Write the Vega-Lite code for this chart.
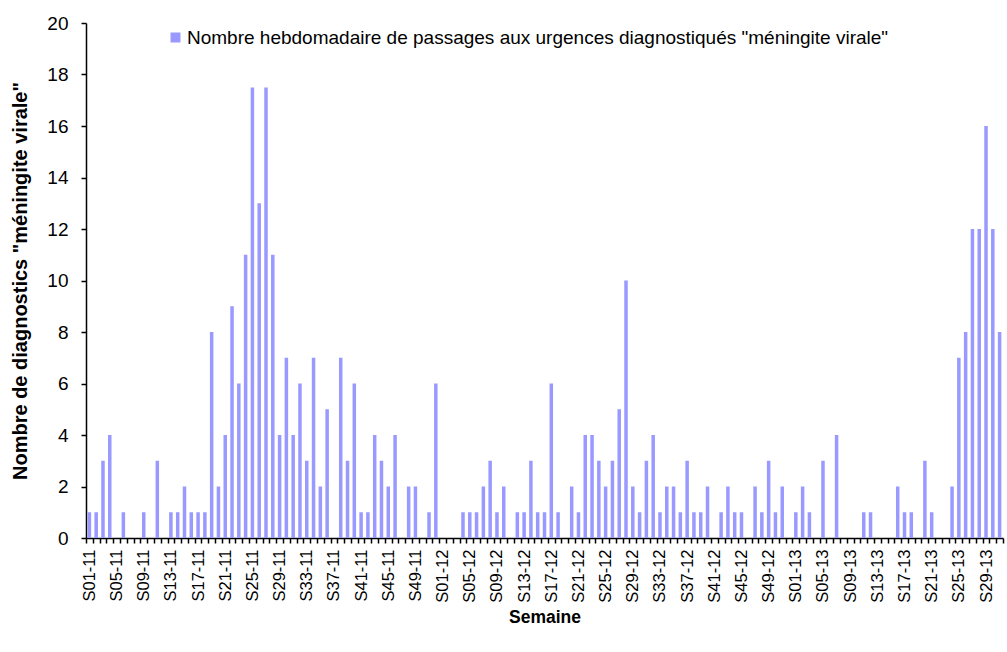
{
  "$schema": "https://vega.github.io/schema/vega-lite/v6.json",
  "autosize": {"type": "none"},
  "width": 917,
  "height": 515,
  "padding": {"left": 86, "top": 23, "right": 4, "bottom": 114},
  "background": "white",
  "config": {
    "font": "Liberation Sans",
    "view": {"stroke": null}
  },
  "data": {
    "values": [
      {"semaine": "S01-11", "n": 1}, {"semaine": "S02-11", "n": 1}, {"semaine": "S03-11", "n": 3}, {"semaine": "S04-11", "n": 4},
      {"semaine": "S05-11", "n": 0}, {"semaine": "S06-11", "n": 1}, {"semaine": "S07-11", "n": 0}, {"semaine": "S08-11", "n": 0},
      {"semaine": "S09-11", "n": 1}, {"semaine": "S10-11", "n": 0}, {"semaine": "S11-11", "n": 3}, {"semaine": "S12-11", "n": 0},
      {"semaine": "S13-11", "n": 1}, {"semaine": "S14-11", "n": 1}, {"semaine": "S15-11", "n": 2}, {"semaine": "S16-11", "n": 1},
      {"semaine": "S17-11", "n": 1}, {"semaine": "S18-11", "n": 1}, {"semaine": "S19-11", "n": 8}, {"semaine": "S20-11", "n": 2},
      {"semaine": "S21-11", "n": 4}, {"semaine": "S22-11", "n": 9}, {"semaine": "S23-11", "n": 6}, {"semaine": "S24-11", "n": 11},
      {"semaine": "S25-11", "n": 17.5}, {"semaine": "S26-11", "n": 13}, {"semaine": "S27-11", "n": 17.5}, {"semaine": "S28-11", "n": 11},
      {"semaine": "S29-11", "n": 4}, {"semaine": "S30-11", "n": 7}, {"semaine": "S31-11", "n": 4}, {"semaine": "S32-11", "n": 6},
      {"semaine": "S33-11", "n": 3}, {"semaine": "S34-11", "n": 7}, {"semaine": "S35-11", "n": 2}, {"semaine": "S36-11", "n": 5},
      {"semaine": "S37-11", "n": 0}, {"semaine": "S38-11", "n": 7}, {"semaine": "S39-11", "n": 3}, {"semaine": "S40-11", "n": 6},
      {"semaine": "S41-11", "n": 1}, {"semaine": "S42-11", "n": 1}, {"semaine": "S43-11", "n": 4}, {"semaine": "S44-11", "n": 3},
      {"semaine": "S45-11", "n": 2}, {"semaine": "S46-11", "n": 4}, {"semaine": "S47-11", "n": 0}, {"semaine": "S48-11", "n": 2},
      {"semaine": "S49-11", "n": 2}, {"semaine": "S50-11", "n": 0}, {"semaine": "S51-11", "n": 1}, {"semaine": "S52-11", "n": 6},
      {"semaine": "S01-12", "n": 0}, {"semaine": "S02-12", "n": 0}, {"semaine": "S03-12", "n": 0}, {"semaine": "S04-12", "n": 1},
      {"semaine": "S05-12", "n": 1}, {"semaine": "S06-12", "n": 1}, {"semaine": "S07-12", "n": 2}, {"semaine": "S08-12", "n": 3},
      {"semaine": "S09-12", "n": 1}, {"semaine": "S10-12", "n": 2}, {"semaine": "S11-12", "n": 0}, {"semaine": "S12-12", "n": 1},
      {"semaine": "S13-12", "n": 1}, {"semaine": "S14-12", "n": 3}, {"semaine": "S15-12", "n": 1}, {"semaine": "S16-12", "n": 1},
      {"semaine": "S17-12", "n": 6}, {"semaine": "S18-12", "n": 1}, {"semaine": "S19-12", "n": 0}, {"semaine": "S20-12", "n": 2},
      {"semaine": "S21-12", "n": 1}, {"semaine": "S22-12", "n": 4}, {"semaine": "S23-12", "n": 4}, {"semaine": "S24-12", "n": 3},
      {"semaine": "S25-12", "n": 2}, {"semaine": "S26-12", "n": 3}, {"semaine": "S27-12", "n": 5}, {"semaine": "S28-12", "n": 10},
      {"semaine": "S29-12", "n": 2}, {"semaine": "S30-12", "n": 1}, {"semaine": "S31-12", "n": 3}, {"semaine": "S32-12", "n": 4},
      {"semaine": "S33-12", "n": 1}, {"semaine": "S34-12", "n": 2}, {"semaine": "S35-12", "n": 2}, {"semaine": "S36-12", "n": 1},
      {"semaine": "S37-12", "n": 3}, {"semaine": "S38-12", "n": 1}, {"semaine": "S39-12", "n": 1}, {"semaine": "S40-12", "n": 2},
      {"semaine": "S41-12", "n": 0}, {"semaine": "S42-12", "n": 1}, {"semaine": "S43-12", "n": 2}, {"semaine": "S44-12", "n": 1},
      {"semaine": "S45-12", "n": 1}, {"semaine": "S46-12", "n": 0}, {"semaine": "S47-12", "n": 2}, {"semaine": "S48-12", "n": 1},
      {"semaine": "S49-12", "n": 3}, {"semaine": "S50-12", "n": 1}, {"semaine": "S51-12", "n": 2}, {"semaine": "S52-12", "n": 0},
      {"semaine": "S01-13", "n": 1}, {"semaine": "S02-13", "n": 2}, {"semaine": "S03-13", "n": 1}, {"semaine": "S04-13", "n": 0},
      {"semaine": "S05-13", "n": 3}, {"semaine": "S06-13", "n": 0}, {"semaine": "S07-13", "n": 4}, {"semaine": "S08-13", "n": 0},
      {"semaine": "S09-13", "n": 0}, {"semaine": "S10-13", "n": 0}, {"semaine": "S11-13", "n": 1}, {"semaine": "S12-13", "n": 1},
      {"semaine": "S13-13", "n": 0}, {"semaine": "S14-13", "n": 0}, {"semaine": "S15-13", "n": 0}, {"semaine": "S16-13", "n": 2},
      {"semaine": "S17-13", "n": 1}, {"semaine": "S18-13", "n": 1}, {"semaine": "S19-13", "n": 0}, {"semaine": "S20-13", "n": 3},
      {"semaine": "S21-13", "n": 1}, {"semaine": "S22-13", "n": 0}, {"semaine": "S23-13", "n": 0}, {"semaine": "S24-13", "n": 2},
      {"semaine": "S25-13", "n": 7}, {"semaine": "S26-13", "n": 8}, {"semaine": "S27-13", "n": 12}, {"semaine": "S28-13", "n": 12},
      {"semaine": "S29-13", "n": 16}, {"semaine": "S30-13", "n": 12}, {"semaine": "S31-13", "n": 8}
    ]
  },
  "mark": {"type": "bar", "size": 3.5},
  "encoding": {
    "x": {
      "field": "semaine",
      "type": "ordinal",
      "sort": null,
      "scale": {"paddingInner": 0, "paddingOuter": 0},
      "axis": {
        "title": "Semaine",
        "titleFont": "Liberation Sans",
        "titleFontSize": 17.5,
        "titleFontWeight": "bold",
        "titleColor": "black",
        "titlePadding": 6,
        "labelAngle": -90,
        "labelFont": "Liberation Sans",
        "labelFontSize": 16.5,
        "labelColor": "black",
        "labelPadding": 6,
        "labelOverlap": false,
        "labelExpr": "(toNumber(substring(datum.value, 1, 3)) % 4 == 1) ? datum.value : ''",
        "tickBand": "extent",
        "tickSize": 5,
        "tickColor": "black",
        "domainColor": "black",
        "domainWidth": 1.5,
        "tickWidth": 1.5
      }
    },
    "y": {
      "field": "n",
      "type": "quantitative",
      "scale": {"domain": [0, 20]},
      "axis": {
        "title": "Nombre de diagnostics \"méningite virale\"",
        "titleFont": "Liberation Sans",
        "titleFontSize": 20,
        "titleFontWeight": "bold",
        "titleColor": "black",
        "titlePadding": 16,
        "values": [0, 2, 4, 6, 8, 10, 12, 14, 16, 18, 20],
        "labelFont": "Liberation Sans",
        "labelFontSize": 19,
        "labelColor": "black",
        "labelPadding": 13,
        "tickSize": 5,
        "tickColor": "black",
        "tickWidth": 1.5,
        "domainColor": "black",
        "domainWidth": 1.5,
        "grid": false
      }
    },
    "color": {
      "datum": "Nombre hebdomadaire de passages aux urgences diagnostiqués \"méningite virale\"",
      "type": "nominal",
      "scale": {"range": ["#9999FF"]},
      "legend": {
        "title": null,
        "orient": "none",
        "legendX": 80,
        "legendY": 5,
        "padding": 0,
        "symbolType": "square",
        "symbolSize": 100,
        "symbolStrokeWidth": 0,
        "labelFont": "Liberation Sans",
        "labelFontSize": 19,
        "labelColor": "black",
        "labelOffset": 2,
        "labelLimit": 0
      }
    }
  }
}
